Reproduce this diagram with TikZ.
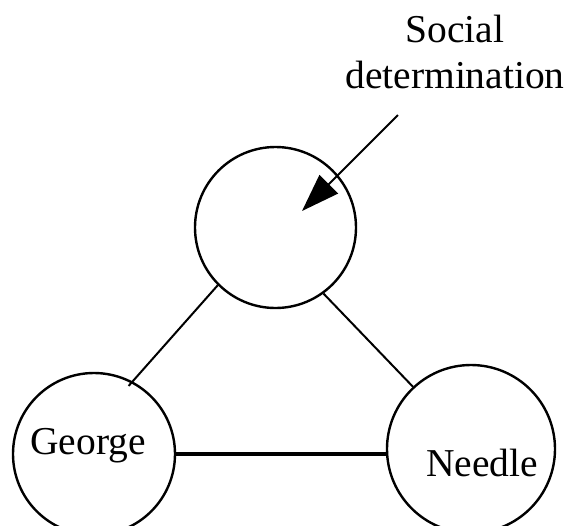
\documentclass[tikz,border=0pt]{standalone}
\usepackage{fontspec}
\setmainfont{Liberation Serif}
\usetikzlibrary{arrows.meta}
\usetikzlibrary{positioning}

\begin{document}
\begin{tikzpicture}[x=0.5pt,y=-0.5pt,
    kreis/.style={draw,circle,line width=1.2pt,inner sep=0pt},
    verbindung/.style={line width=1pt},
    every node/.style={font=\fontsize{19.75}{23}\selectfont}]
    \useasboundingbox (0,0) rectangle (569,526);

    % Kreise
    \node[kreis,minimum size=80.5pt] (sozial) at (275.5,227.5) {};
    \node[kreis,minimum size=81pt] (george) at (94,454) {};
    \node[kreis,minimum size=84pt] (needle) at (471,449) {};

    % Beschriftungen
    \node[inner sep=0pt] (georgetext) at (88,446) {George};
    \node[inner sep=0pt] (needletext) at (482,462.5) {Needle};
    \node[inner sep=0pt,align=center] (titel) at (455,51.5) {Social\\determination};

    % Verbindungen zwischen den Kreisen
    \draw[verbindung,shorten >=-3pt] (sozial.225) -- (george.62);
    \draw[verbindung] (sozial.306) -- (needle.133);
    \draw[line width=1.7pt] (george.east) -- (george.east -| needle.west);

    % Pfeil auf den oberen Kreis
    \coordinate (pfeilstart) at (398,115);
    \coordinate (pfeilspitze) at (302,211);
    \draw[verbindung,-{Triangle[length=19pt,width=13pt]}] (pfeilstart) -- (pfeilspitze);
\end{tikzpicture}
\end{document}
